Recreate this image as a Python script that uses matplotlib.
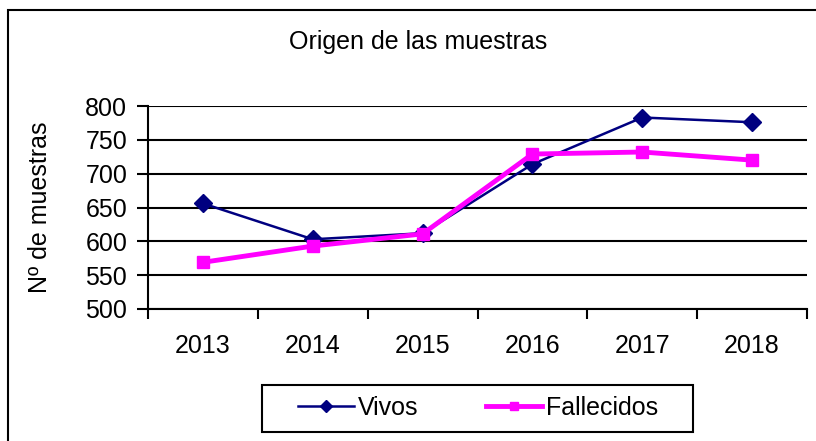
import numpy as np
import matplotlib.pyplot as plt
from matplotlib.patches import Rectangle

plt.rcParams['font.family'] = ['Liberation Sans', 'DejaVu Sans']

years = ["2013", "2014", "2015", "2016", "2017", "2018"]
vivos = [656, 603, 612, 714, 783, 776]
fallecidos = [569, 593, 611, 729, 732, 720]

W, H = 816, 441
fig = plt.figure(figsize=(W/100, H/100), dpi=100)
ax = fig.add_axes([148/W, 1-309/H, (807-148)/W, (309-106)/H])

x = np.arange(len(years))
ax.plot(x, vivos, color='#000080', lw=1.8, marker='D', ms=9, label='Vivos')
ax.plot(x, fallecidos, color='#ff00ff', lw=3.5, marker='s', ms=9, label='Fallecidos')

ax.set_xlim(-0.5, 5.5)
ax.set_ylim(500, 800)
ax.set_yticks(np.arange(500, 801, 50))
ax.yaxis.grid(True, color='black', lw=1.5)
ax.set_axisbelow(True)

# category labels centred, tick marks between categories
ax.set_xticks(x)
ax.set_xticklabels(years)
ax.tick_params(axis='x', length=0, pad=18, labelsize=18)
ax.set_xticks(np.arange(-0.5, 6, 1), minor=True)
ax.tick_params(axis='x', which='minor', length=7, width=1.5, direction='out')
ax.tick_params(axis='y', length=8, width=1.5, labelsize=18, pad=7)

for s in ['top', 'right']:
    ax.spines[s].set_visible(False)
for s in ['left', 'bottom']:
    ax.spines[s].set_linewidth(1.5)

ax.set_ylabel('Nº de muestras', fontsize=18, labelpad=24)
fig.text(418/W, 1-42/H, 'Origen de las muestras', ha='center', va='center', fontsize=18)

leg = ax.legend(loc='center', bbox_to_anchor=(478/W, 1-408/H), bbox_transform=fig.transFigure,
                ncol=2, fontsize=18, frameon=False,
                handlelength=2.25, handletextpad=0.15, columnspacing=2.7, borderpad=0,
                markerscale=0.7)

# legend box and outer chart border
fig.add_artist(Rectangle((262/W, 1-432/H), (693-262)/W, 47/H, transform=fig.transFigure,
                         fill=False, lw=1.5, edgecolor='black'))
fig.add_artist(Rectangle((8/W, -0.1), 1.2, 1.1 - 10/H, transform=fig.transFigure,
                         fill=False, lw=1.5, edgecolor='black'))

fig.savefig('out.png', dpi=100)
